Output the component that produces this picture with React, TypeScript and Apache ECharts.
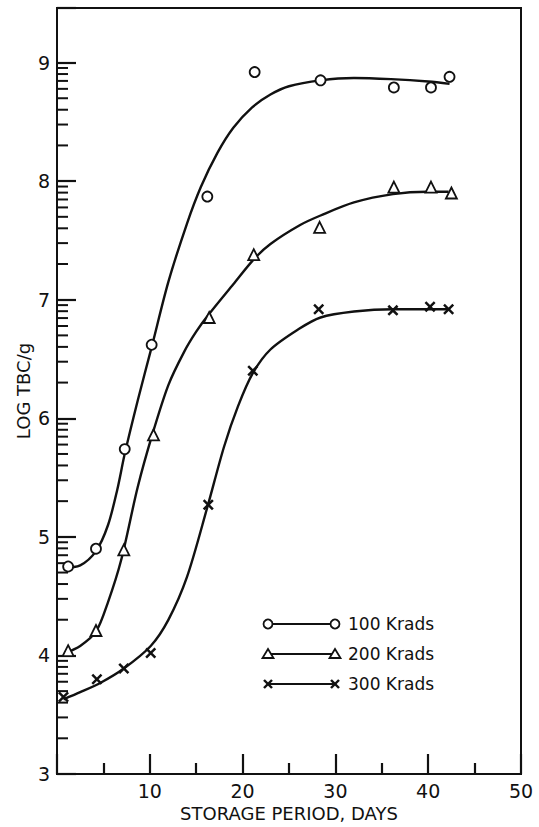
import React, { useEffect, useRef } from "react";
import * as echarts from "echarts";

// Measured points (storage days, log TBC/g)
const days100 = [1.2, 4.2, 7.3, 10.2, 16.2, 21.3, 28.4, 36.3, 40.3, 42.3];
const log100 = [4.75, 4.9, 5.74, 6.62, 7.87, 8.92, 8.85, 8.79, 8.79, 8.88];
const days200 = [1.2, 4.2, 7.2, 10.4, 16.4, 21.2, 28.3, 36.3, 40.3, 42.5];
const log200 = [4.04, 4.21, 4.89, 5.86, 6.85, 7.38, 7.61, 7.95, 7.95, 7.9];
const days300 = [0.7, 4.3, 7.2, 10.1, 16.3, 21.1, 28.2, 36.2, 40.2, 42.2];
const log300 = [3.65, 3.8, 3.89, 4.02, 5.27, 6.4, 6.92, 6.91, 6.94, 6.92];

// Fitted curves
const fitX100 = [0.7, 2.5, 4.2, 5.5, 6.5, 7.3, 8.7, 10.2, 12, 14, 15.5, 17.3, 19, 21, 23, 25, 28.4, 32, 36, 40, 42.3];
const fitY100 = [4.74, 4.76, 4.88, 5.1, 5.4, 5.7, 6.15, 6.6, 7.15, 7.64, 7.95, 8.24, 8.45, 8.62, 8.73, 8.8, 8.85, 8.87, 8.86, 8.84, 8.82];
const fitX200 = [0.9, 2.5, 4.2, 5.5, 6.9, 8.7, 10.3, 12, 13.7, 15, 16.3, 19, 21.2, 23, 26.2, 28.4, 32, 36.2, 40, 42.2];
const fitY200 = [4.02, 4.08, 4.2, 4.45, 4.8, 5.42, 5.87, 6.28, 6.56, 6.73, 6.87, 7.13, 7.34, 7.47, 7.63, 7.71, 7.82, 7.89, 7.91, 7.91];
const fitX300 = [0.7, 2.5, 4.7, 7.2, 10.1, 12, 14, 16.2, 18, 19.5, 21.1, 23, 26, 28.4, 32, 36.2, 42.2];
const fitY300 = [3.63, 3.69, 3.77, 3.89, 4.08, 4.3, 4.66, 5.25, 5.76, 6.1, 6.38, 6.58, 6.75, 6.85, 6.9, 6.92, 6.92];

const seriesNames = ["100 Krads", "200 Krads", "300 Krads"];
const yLabelValues = [3, 4, 5, 6, 7, 8, 9];
const xLabelValues = [10, 20, 30, 40, 50];
const logSteps = [2, 3, 4, 5, 6, 7, 8, 9];
const decades = [3, 4, 5, 6, 7, 8];
const yMinorTicks: number[] = [];
for (const base of decades) {
  for (const k of logSteps) yMinorTicks.push(base + Math.log10(k));
}

const FONT = "DejaVu Sans";
const INK = "#111";
const CROSS = "path://M0,1.6L1.6,0L5,3.4L8.4,0L10,1.6L6.6,5L10,8.4L8.4,10L5,6.6L1.6,10L0,8.4L3.4,5Z";

const zip = (xs: number[], ys: number[]) => xs.map((x, i) => [x, ys[i]]);

export default function App() {
  const ref = useRef<HTMLDivElement>(null);
  useEffect(() => {
    document.body.style.margin = "0";
    if (!ref.current) return;
    const chart = echarts.init(ref.current, undefined, { renderer: "svg" });
    const curve = (xs: number[], ys: number[]) => ({
      type: "line",
      data: zip(xs, ys),
      smooth: 0.3,
      showSymbol: false,
      symbol: "none",
      lineStyle: { color: INK, width: 2.4 },
      z: 2,
      silent: true,
    });
    const pts = (xs: number[], ys: number[], symbol: string, size: number, filled: boolean) => ({
      type: "scatter",
      data: zip(xs, ys),
      symbol,
      symbolSize: size,
      itemStyle: filled
        ? { color: INK, borderWidth: 0, opacity: 1 }
        : { color: "#fff", borderColor: INK, borderWidth: 1.8, opacity: 1 },
      z: 5,
    });
    const legendRow = (y: number, name: string, kind: string) => {
      const marker = (x: number) => {
        if (kind === "circle")
          return { type: "circle", shape: { cx: x, cy: y, r: 4.5 }, style: { fill: "#fff", stroke: INK, lineWidth: 1.8 }, z: 10 };
        if (kind === "triangle")
          return {
            type: "polygon",
            shape: { points: [[x, y - 5], [x + 5.5, y + 4], [x - 5.5, y + 4]] },
            style: { fill: "#fff", stroke: INK, lineWidth: 1.8 },
            z: 10,
          };
        return {
          type: "group",
          z: 10,
          children: [
            { type: "line", shape: { x1: x - 4, y1: y - 4, x2: x + 4, y2: y + 4 }, style: { stroke: INK, lineWidth: 2.4 } },
            { type: "line", shape: { x1: x + 4, y1: y - 4, x2: x - 4, y2: y + 4 }, style: { stroke: INK, lineWidth: 2.4 } },
          ],
        };
      };
      return [
        { type: "line", shape: { x1: 268, y1: y, x2: 335, y2: y }, style: { stroke: INK, lineWidth: 1.8 }, z: 9 },
        marker(268),
        marker(335),
        {
          type: "text",
          x: 348,
          y,
          style: { text: name, font: `17px "${FONT}"`, fill: INK, verticalAlign: "middle" },
          z: 10,
        },
      ];
    };
    chart.setOption({
      animation: false,
      backgroundColor: "#fff",
      grid: { left: 57, right: 18, top: 8, bottom: 48, show: true, borderColor: INK, borderWidth: 2, containLabel: false },
      xAxis: {
        type: "value",
        min: 0,
        max: 50,
        interval: 10,
        name: "STORAGE PERIOD, DAYS",
        nameLocation: "middle",
        nameGap: 30,
        nameMoveOverlap: false,
        nameTextStyle: { fontFamily: FONT, fontSize: 18, color: INK },
        axisLine: { show: true, lineStyle: { color: INK, width: 2 } },
        axisTick: { show: true, inside: true, length: 20, lineStyle: { color: INK, width: 2.2 } },
        minorTick: { show: true, splitNumber: 2, length: 11, lineStyle: { color: INK, width: 2.2 } },
        axisLabel: {
          customValues: xLabelValues,
          margin: 7,
          fontFamily: FONT,
          fontSize: 19,
          color: INK,
        },
        splitLine: { show: false },
        minorSplitLine: { show: false },
      },
      yAxis: {
        type: "value",
        position: "left",
        min: 3,
        max: 9.46,
        interval: 1,
        name: "LOG TBC/g",
        nameLocation: "middle",
        nameGap: 25,
        nameMoveOverlap: false,
        nameRotate: 90,
        nameTextStyle: { fontFamily: FONT, fontSize: 18, color: INK },
        axisLine: { show: true, lineStyle: { color: INK, width: 2 } },
        axisTick: { show: true, inside: true, length: 19, lineStyle: { color: INK, width: 2.2 } },
        axisLabel: {
          customValues: yLabelValues,
          margin: 7,
          fontFamily: FONT,
          fontSize: 19,
          color: INK,
          formatter: (v: number) => (Number.isInteger(v) ? String(v) : ""),
        },
        splitLine: { show: false },
      },
      series: [
        { name: seriesNames[0], ...curve(fitX100, fitY100) },
        { name: seriesNames[1], ...curve(fitX200, fitY200) },
        { name: seriesNames[2], ...curve(fitX300, fitY300) },
        { name: seriesNames[0], ...pts(days100, log100, "circle", 10, false) },
        { name: seriesNames[1], ...pts(days200, log200, "triangle", 11, false) },
        { name: seriesNames[2], ...pts(days300, log300, CROSS, 11, true) },
        {
          type: "custom",
          name: "minor ticks",
          silent: true,
          clip: false,
          z: 1,
          data: yMinorTicks.map((v) => [0, v]),
          encode: { x: 0, y: 1 },
          renderItem: (params: any, api: any) => {
            const p = api.coord([0, api.value(1)]);
            return {
              type: "line",
              shape: { x1: p[0], y1: p[1], x2: p[0] + 11, y2: p[1] },
              style: { stroke: INK, lineWidth: 2 },
            };
          },
        },
      ],
      graphic: [
        ...legendRow(624, seriesNames[0], "circle"),
        ...legendRow(654, seriesNames[1], "triangle"),
        ...legendRow(684, seriesNames[2], "cross"),
      ],
    });
    return () => chart.dispose();
  }, []);
  return <div ref={ref} style={{ width: 539, height: 827 }} />;
}
